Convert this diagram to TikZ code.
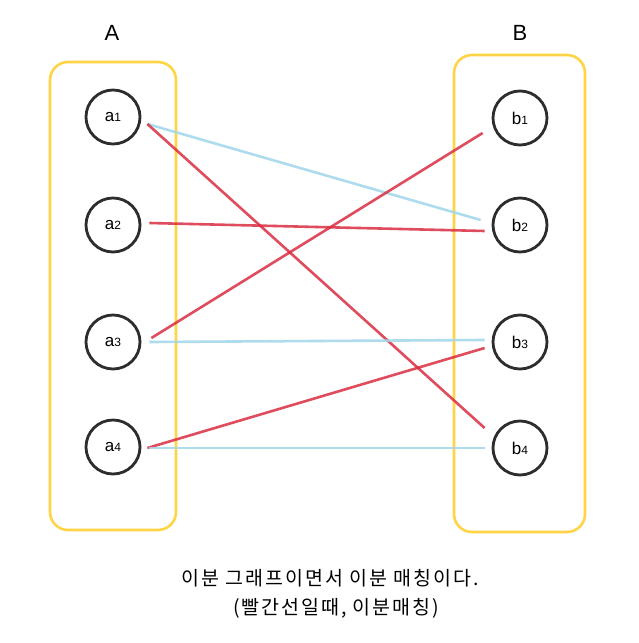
\documentclass[tikz,border=0pt]{standalone}
\usepackage{fontspec}
\setmainfont{Liberation Sans}
\newfontfamily\kor[LetterSpace=10]{Noto Sans CJK KR}
\newcommand\subdig[1]{{\fontsize{12}{14}\selectfont #1}}
\begin{document}
\begin{tikzpicture}[x=1pt,y=-1pt,
  grp/.style={draw=gold, line width=2.6pt, rounded corners=18pt},
  vert/.style={circle, draw=ink, line width=2.8pt, minimum size=54pt, inner sep=0pt, font=\fontsize{17}{19}\selectfont},
  redge/.style={draw=redline, line width=2.6pt, opacity=0.85},
  bedge/.style={draw=blueline, line width=2.6pt, opacity=0.85},
  ttl/.style={font=\fontsize{22}{25}\selectfont},
  captext/.style={font=\kor\fontsize{19.5}{22}\selectfont}]
\definecolor{gold}{RGB}{255,212,70}
\definecolor{ink}{RGB}{45,45,45}
\definecolor{redline}{RGB}{218,45,65}
\definecolor{blueline}{RGB}{160,215,235}
\useasboundingbox (0,0) rectangle (639,643);
\fill[white] (0,0) rectangle (639,643);
\draw[grp] (50,62) rectangle (176,530);
\draw[grp] (454,55) rectangle (585,532);
\node[ttl] (A) at (112,33) {A};
\node[ttl] (B) at (520,33) {B};
\node[vert] (a1) at (113,117) {a\subdig{1}};
\node[vert] (a2) at (113,225) {a\subdig{2}};
\node[vert] (a3) at (113,342) {a\subdig{3}};
\node[vert] (a4) at (113,447) {a\subdig{4}};
\node[vert] (b1) at (520,118) {b\subdig{1}};
\node[vert] (b2) at (520,225) {b\subdig{2}};
\node[vert] (b3) at (520,342) {b\subdig{3}};
\node[vert] (b4) at (520,448) {b\subdig{4}};
\draw[bedge] ([shift={(6,7)}]a1.east) -- ([shift={(-11,-5)}]b2.west);
\draw[redge] ([shift={(6,7)}]a1.east) -- ([shift={(-7,-20)}]b4.west);
\draw[redge] ([shift={(8,-2)}]a2.east) -- ([shift={(-7,6)}]b2.west);
\draw[redge] ([shift={(10,-4)}]a3.east) -- ([shift={(-9,15)}]b1.west);
\draw[bedge] ([shift={(8,0)}]a3.east) -- ([shift={(-7,-2)}]b3.west);
\draw[redge] ([shift={(6,1)}]a4.east) -- ([shift={(-7,6)}]b3.west);
\draw[bedge] ([shift={(8,1)}]a4.east) -- ([shift={(-7,0)}]b4.west);
\node[captext] (t1) at (330,578) {이분 그래프이면서 이분 매칭이다.};
\node[captext] (t2) at (336,608) {(빨간선일때, 이분매칭)};
\end{tikzpicture}
\end{document}
